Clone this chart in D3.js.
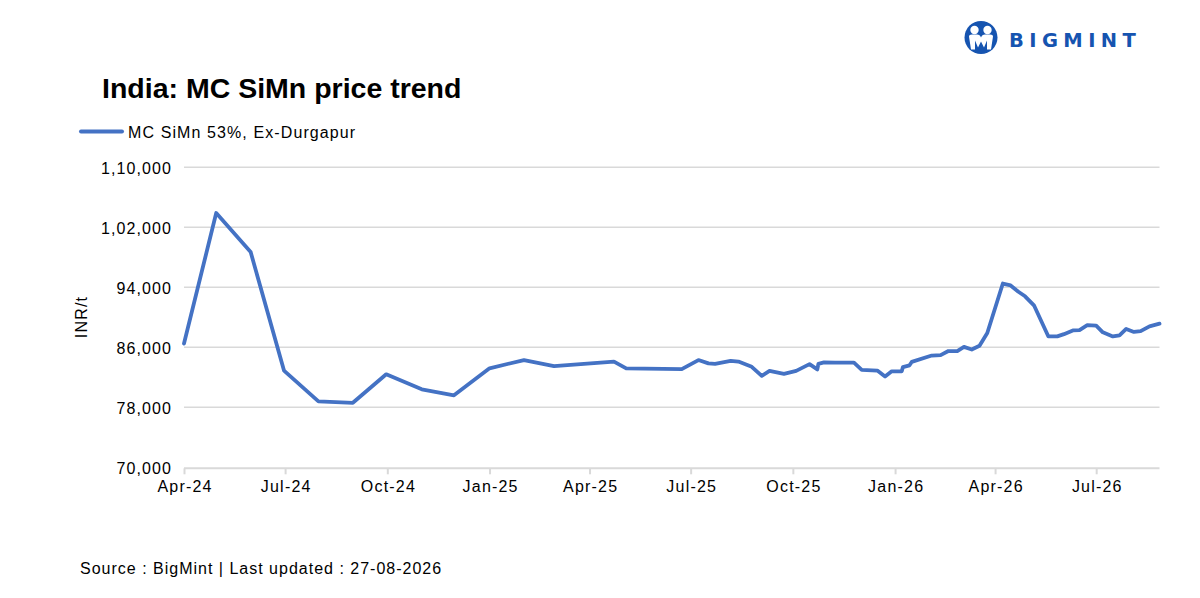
<!DOCTYPE html>
<html>
<head>
<meta charset="utf-8">
<script src="https://cdn.jsdelivr.net/npm/d3@7"></script>
<style>
  html, body { margin: 0; padding: 0; background: #fff; }
  svg { display: block; font-family: "Liberation Sans", Arial, sans-serif; }
</style>
</head>
<body>
<svg id="chart" width="1200" height="598"></svg>
<script>
// ---- Data ----
const seriesName = "MC SiMn 53%, Ex-Durgapur";
const dates = [
  "2024-04-01","2024-04-30","2024-05-31","2024-06-30","2024-07-31","2024-08-31",
  "2024-09-30","2024-11-01","2024-11-30","2025-01-01","2025-02-01","2025-02-28",
  "2025-04-23","2025-05-04","2025-06-23","2025-07-08","2025-07-17","2025-07-23",
  "2025-08-06","2025-08-13","2025-08-25","2025-09-03","2025-09-10","2025-09-23",
  "2025-10-04","2025-10-16","2025-10-23","2025-10-24","2025-10-29","2025-11-08",
  "2025-11-25","2025-12-02","2025-12-16","2025-12-23","2025-12-29","2026-01-07",
  "2026-01-08","2026-01-14","2026-01-16","2026-02-03","2026-02-11","2026-02-18",
  "2026-02-26","2026-03-04","2026-03-11","2026-03-18","2026-03-25","2026-04-08",
  "2026-04-15","2026-04-22","2026-04-28","2026-05-06","2026-05-19","2026-05-27",
  "2026-06-02","2026-06-10","2026-06-16","2026-06-23","2026-07-01","2026-07-07",
  "2026-07-16","2026-07-22","2026-07-28","2026-08-04","2026-08-10","2026-08-18",
  "2026-08-27"
];
const prices = [
  86500,103900,98700,82900,78800,78600,
  82400,80400,79600,83200,84300,83500,
  84100,83200,83100,84300,83850,83800,
  84200,84100,83400,82200,82850,82450,
  82850,83750,83050,83800,84000,83950,
  83950,83000,82900,82100,82800,82800,
  83350,83600,84050,84900,84950,85500,
  85500,86050,85700,86200,87900,94500,
  94250,93400,92800,91600,87450,87450,
  87750,88250,88300,88950,88900,88000,
  87450,87600,88450,88050,88150,88800,
  89150
];
const yTicks = [70000,78000,86000,94000,102000,110000];
const yTickLabels = ["70,000","78,000","86,000","94,000","1,02,000","1,10,000"];
const xTickDates = ["2024-04-01","2024-07-01","2024-10-01","2025-01-01","2025-04-01","2025-07-01","2025-10-01","2026-01-01","2026-04-01","2026-07-01"];
const xDomain = ["2024-04-01","2026-08-27"];

// ---- Setup ----
const parse = d3.timeParse("%Y-%m-%d");
const data = dates.map((d, i) => ({ date: parse(d), value: prices[i] }));
const svg = d3.select("#chart");

const plotLeft = 184, plotRight = 1159.5, plotTop = 167.3, plotBottom = 467.3;
const x = d3.scaleTime().domain(xDomain.map(parse)).range([plotLeft, plotRight]);
const y = d3.scaleLinear().domain([70000, 110000]).range([plotBottom, plotTop]);

const gridColor = "#d9d9d9";
const lineColor = "#4472C4";
const fontFam = "Liberation Sans, Arial, sans-serif";

// Gridlines
svg.append("g")
  .selectAll("line")
  .data(yTicks.slice(1))
  .join("line")
  .attr("x1", plotLeft).attr("x2", plotRight)
  .attr("y1", d => y(d)).attr("y2", d => y(d))
  .attr("stroke", gridColor).attr("stroke-width", 1.5);

// Y axis labels
const yAxis = d3.axisLeft(y).tickValues(yTicks)
  .tickFormat((d, i) => yTickLabels[i]).tickSize(0).tickPadding(12);
const gy = svg.append("g").attr("transform", `translate(${plotLeft},0)`).call(yAxis);
gy.select(".domain").remove();
gy.selectAll("text").attr("font-size", 16).attr("fill", "#000")
  .attr("letter-spacing", 1.1)
  .attr("font-family", fontFam).attr("dy", "0.36em");

// X axis
const xAxis = d3.axisBottom(x).tickValues(xTickDates.map(parse))
  .tickFormat(d3.timeFormat("%b-%y")).tickSize(6).tickPadding(6);
const gx = svg.append("g").attr("transform", `translate(0,${plotBottom + 1})`).call(xAxis);
gx.select(".domain").attr("stroke", gridColor).attr("stroke-width", 2)
  .attr("d", `M${plotLeft},0H${plotRight}`);
gx.selectAll(".tick line").attr("stroke", gridColor).attr("stroke-width", 2);
gx.selectAll("text").attr("font-size", 16).attr("fill", "#000")
  .attr("letter-spacing", 1.2).attr("dx", 0.6)
  .attr("font-family", fontFam);

// Line
const line = d3.line().x(d => x(d.date)).y(d => y(d.value)).curve(d3.curveLinear);
svg.append("path").datum(data)
  .attr("d", line)
  .attr("fill", "none")
  .attr("stroke", lineColor)
  .attr("stroke-width", 3.8)
  .attr("stroke-linejoin", "round")
  .attr("stroke-linecap", "round");

// Y axis title
svg.append("text")
  .attr("transform", "translate(87,317) rotate(-90)")
  .attr("text-anchor", "middle")
  .attr("font-size", 16).attr("letter-spacing", 1.2).attr("fill", "#000")
  .text("INR/t");

// Title
svg.append("text")
  .attr("x", 102).attr("y", 98)
  .attr("font-size", 28.5).attr("font-weight", "bold").attr("fill", "#000")
  .text("India: MC SiMn price trend");

// Legend
svg.append("line")
  .attr("x1", 81).attr("x2", 122).attr("y1", 131.5).attr("y2", 131.5)
  .attr("stroke", lineColor).attr("stroke-width", 4).attr("stroke-linecap", "round");
svg.append("text")
  .attr("x", 128).attr("y", 137.5)
  .attr("font-size", 16).attr("letter-spacing", 1.1).attr("fill", "#000")
  .text(seriesName);

// Footer
svg.append("text")
  .attr("x", 80).attr("y", 574)
  .attr("font-size", 16).attr("letter-spacing", 1.0).attr("fill", "#000")
  .text("Source : BigMint | Last updated : 27-08-2026");

// Logo
const logo = svg.append("g").attr("transform", "translate(981,37.5)");
const logoBlue = "#1654b0";
logo.append("circle").attr("r", 16.5).attr("fill", logoBlue);
logo.append("circle").attr("cx", -6.5).attr("cy", -7.5).attr("r", 4.2).attr("fill", "#fff");
logo.append("circle").attr("cx", 6.5).attr("cy", -7.5).attr("r", 4.2).attr("fill", "#fff");
logo.append("path")
  .attr("d", "M-12,-1 Q-12,-3 -9,-3 L-4,-3 Q-1,-3 0,0 Q1,-3 4,-3 L9,-3 Q12,-3 12,-1 L10,12 L6,12 L6,5 L3,12 L-3,12 L-6,5 L-6,12 L-10,12 Z")
  .attr("fill", "#fff");
logo.append("path")
  .attr("d", "M-6,3 L-3,10 L0,4 L3,10 L6,3 L6,14 L-6,14 Z")
  .attr("fill", logoBlue);
svg.append("text")
  .attr("x", 1009).attr("y", 47)
  .attr("font-size", 19.5).attr("font-weight", "bold")
  .attr("letter-spacing", 5.4).attr("fill", logoBlue)
  .attr("font-family", "DejaVu Sans, Liberation Sans, sans-serif")
  .text("BIGMINT");
</script>
</body>
</html>
